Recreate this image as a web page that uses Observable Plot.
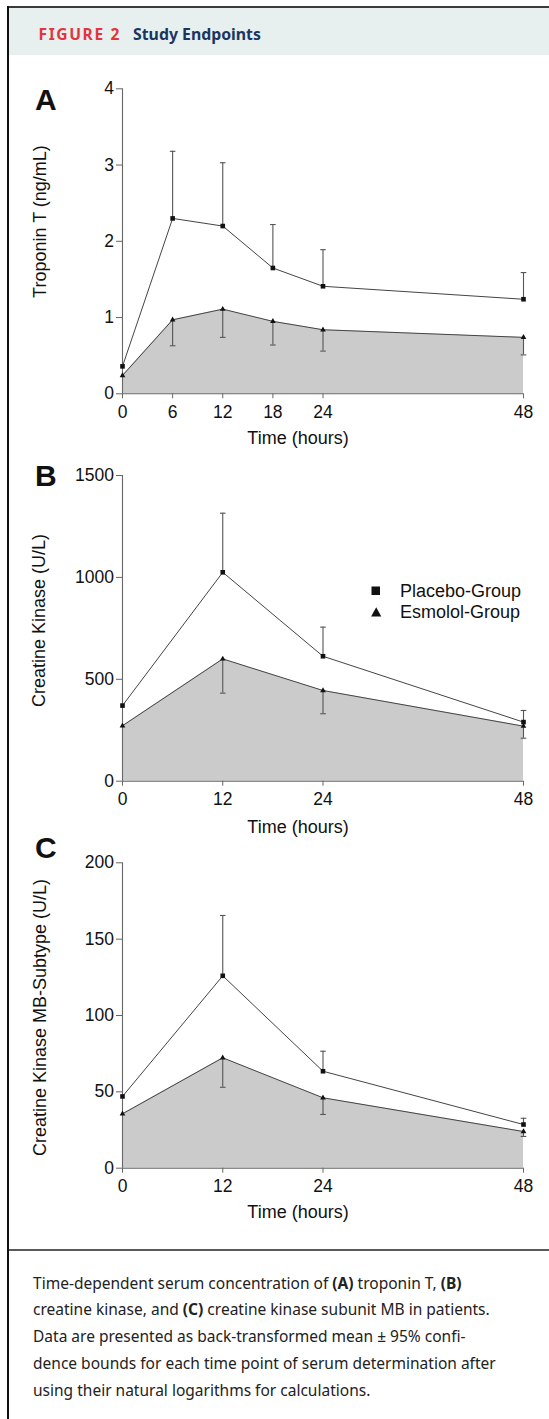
<!DOCTYPE html>
<html><head><meta charset="utf-8">
<script src="https://cdn.jsdelivr.net/npm/d3@7"></script>
<script src="https://cdn.jsdelivr.net/npm/@observablehq/plot@0.6"></script>
<style>
body{margin:0;background:#fff;}
#page{position:relative;width:549px;height:1419px;overflow:hidden;background:#fff;font-family:"Liberation Sans",Arial,sans-serif;}
.abs{position:absolute;}
.letter{position:absolute;font:bold 30px/30px "Liberation Sans",Arial,sans-serif;color:#111;}
.hdr{position:absolute;white-space:nowrap;font-family:"Noto Sans",sans-serif;font-weight:bold;line-height:20px;}
#caption{position:absolute;left:33px;top:1269.6px;font-family:"Noto Sans",sans-serif;color:#222;}
#caption div{height:26.75px;line-height:26.75px;white-space:nowrap;}
#caption span{display:inline-block;white-space:nowrap;}
.leg{position:absolute;font:18px/22px "Liberation Sans",Arial,sans-serif;color:#111;white-space:nowrap;}
.panel{position:absolute;left:0;}
</style></head><body><div id="page">
<div class="abs" style="left:7px;top:6px;width:542px;height:2px;background:#3a3a3a"></div>
<div class="abs" style="left:7px;top:6px;width:2.3px;height:1413px;background:#111"></div>
<div class="abs" style="left:9px;top:8px;width:540px;height:47px;background:#e7f0ef"></div>
<div class="hdr" id="fig" style="left:38.5px;top:24px;color:#e4343c;letter-spacing:1.6px;font-size:15px">FIGURE 2</div>
<div class="hdr" id="ttl" style="left:133px;top:24px;color:#1b3561;font-size:15px">Study Endpoints</div>
<div class="letter" style="left:35px;top:84.5px">A</div>
<div class="letter" style="left:35px;top:461px">B</div>
<div class="letter" style="left:35px;top:833px">C</div>
<div class="panel" id="pA" style="top:60px"></div>
<div class="panel" id="pB" style="top:460px"></div>
<div class="panel" id="pC" style="top:830px"></div>
<svg class="abs" style="left:371px;top:585.5px" width="10" height="10"><rect x="0.5" y="0.5" width="8.5" height="8.5" fill="#111"/></svg>
<div class="leg" style="left:400px;top:579.5px">Placebo-Group</div>
<svg class="abs" style="left:371px;top:607px" width="11" height="10"><polygon points="5.2,0.3 10.3,9.5 0.1,9.5" fill="#111"/></svg>
<div class="leg" style="left:400px;top:601px">Esmolol-Group</div>
<div class="abs" style="left:9px;top:1249px;width:540px;height:2px;background:#5a5a5a"></div>
<div id="caption">
<div><span id="cap1">Time-dependent serum concentration of <b>(A)</b> troponin T, <b>(B)</b></span></div>
<div><span>creatine kinase, and <b>(C)</b> creatine kinase subunit MB in patients.</span></div>
<div><span>Data are presented as back-transformed mean ± 95% confi-</span></div>
<div><span>dence bounds for each time point of serum determination after</span></div>
<div><span>using their natural logarithms for calculations.</span></div>
</div>
</div>
<script>
// Panel A: Troponin T (ng/mL)
const timesA = [0, 6, 12, 18, 24, 48];
const placeboA = [0.36, 2.30, 2.20, 1.65, 1.41, 1.24];
const placeboUpperA = [null, 3.18, 3.03, 2.22, 1.89, 1.59];
const esmololA = [0.24, 0.97, 1.11, 0.95, 0.84, 0.74];
const esmololLowerA = [null, 0.63, 0.74, 0.64, 0.56, 0.51];
const yTicksA = [0, 1, 2, 3, 4];

// Panel B: Creatine Kinase (U/L)
const timesB = [0, 12, 24, 48];
const placeboB = [371, 1025, 613, 290];
const placeboUpperB = [null, 1315, 756, 347];
const esmololB = [272, 600, 445, 270];
const esmololLowerB = [null, 432, 331, 211];
const yTicksB = [0, 500, 1000, 1500];

// Panel C: Creatine Kinase MB-Subtype (U/L)
const timesC = [0, 12, 24, 48];
const placeboC = [47, 126, 63.5, 28.6];
const placeboUpperC = [null, 165.5, 76.6, 32.7];
const esmololC = [35.6, 72.3, 46.1, 24];
const esmololLowerC = [null, 53, 35.2, 20.8];
const yTicksC = [0, 50, 100, 150, 200];

const xLabel = "Time (hours)";
const legendLabels = ["Placebo-Group", "Esmolol-Group"];

const capSymbol = {draw(ctx, size) { const r = Math.sqrt(size / Math.PI); ctx.moveTo(-r, 0); ctx.lineTo(r, 0); }};

function panel(o) {
  const rows = o.times.map((t, i) => ({t, plac: o.placebo[i], up: o.placeboUpper[i], esm: o.esmolol[i], lo: o.esmololLower[i]}));
  const upRows = rows.filter(d => d.up != null);
  const loRows = rows.filter(d => d.lo != null);
  const frameCenter = o.marginTop + (o.height - o.marginTop - o.marginBottom) / 2;
  return Plot.plot({
    width: 549, height: o.height,
    marginLeft: 122, marginRight: 26, marginTop: o.marginTop, marginBottom: o.marginBottom,
    style: {fontFamily: "Liberation Sans, Arial, sans-serif", fontSize: "17px", color: "#111", background: "transparent", overflow: "visible"},
    x: {domain: [0, 48]},
    y: {domain: [0, o.yTicks[o.yTicks.length - 1]]},
    marks: [
      Plot.areaY(rows, {x: "t", y: "esm", fill: "#cbcbcb"}),
      Plot.ruleX([0], {stroke: "#666", strokeWidth: 1.1}),
      Plot.ruleY([0], {stroke: "#666", strokeWidth: 1.1}),
      Plot.axisX({ticks: o.times, tickFormat: () => "", tickSize: 5, label: null, stroke: "#666"}),
      Plot.axisY({ticks: o.yTicks, tickFormat: () => "", tickSize: 6, label: null, stroke: "#666"}),
      Plot.text(o.times, {x: d => d, text: d => `${d}`, frameAnchor: "bottom", textAnchor: "middle", lineAnchor: "middle", dy: 18.5, fontSize: 17.5, fill: "#111"}),
      Plot.text(o.yTicks, {y: d => d, text: d => `${d}`, frameAnchor: "left", textAnchor: "end", lineAnchor: "middle", dx: -8.5, fontSize: 17.5, fill: "#111"}),
      Plot.ruleX(upRows, {x: "t", y1: "plac", y2: "up", stroke: "#555", strokeWidth: 1.1}),
      Plot.dot(upRows, {x: "t", y: "up", symbol: capSymbol, r: 2.8, stroke: "#555", fill: "none", strokeWidth: 1.1}),
      Plot.ruleX(loRows, {x: "t", y1: "esm", y2: "lo", stroke: "#555", strokeWidth: 1.1}),
      Plot.dot(loRows, {x: "t", y: "lo", symbol: capSymbol, r: 2.8, stroke: "#555", fill: "none", strokeWidth: 1.1}),
      Plot.line(rows, {x: "t", y: "plac", stroke: "#444", strokeWidth: 1}),
      Plot.line(rows, {x: "t", y: "esm", stroke: "#444", strokeWidth: 1}),
      Plot.dot(rows, {x: "t", y: "plac", symbol: "square", r: 2.6, fill: "#111", stroke: "none"}),
      Plot.dot(rows, {x: "t", y: "esm", symbol: "triangle", r: 2.1, fill: "#111", stroke: "none"}),
      Plot.text([o.yLabel], {text: d => d, frameAnchor: "left", textAnchor: "middle", lineAnchor: "middle", rotate: -90, dx: o.yLabelX - 122, dy: o.yLabelY - frameCenter, fontSize: 18, fill: "#111"}),
      Plot.text([xLabel], {text: d => d, frameAnchor: "bottom", textAnchor: "middle", lineAnchor: "middle", dx: -25, dy: o.xLabelDy, fontSize: 18, fill: "#111"})
    ]
  });
}

document.getElementById("pA").append(panel({times: timesA, placebo: placeboA, placeboUpper: placeboUpperA, esmolol: esmololA, esmololLower: esmololLowerA, yTicks: yTicksA, height: 400, marginTop: 28.3, marginBottom: 66.7, yLabel: "Troponin T (ng/mL)", yLabelX: 40, yLabelY: 161, xLabelDy: 44}));
document.getElementById("pB").append(panel({times: timesB, placebo: placeboB, placeboUpper: placeboUpperB, esmolol: esmololB, esmololLower: esmololLowerB, yTicks: yTicksB, height: 370, marginTop: 15, marginBottom: 49.3, yLabel: "Creatine Kinase (U/L)", yLabelX: 38.5, yLabelY: 160, xLabelDy: 46}));
document.getElementById("pC").append(panel({times: timesC, placebo: placeboC, placeboUpper: placeboUpperC, esmolol: esmololC, esmololLower: esmololLowerC, yTicks: yTicksC, height: 400, marginTop: 32.3, marginBottom: 62.3, yLabel: "Creatine Kinase MB-Subtype (U/L)", yLabelX: 40, yLabelY: 187, xLabelDy: 44}));

function fit(el, target) {
  const w = el.getBoundingClientRect().width;
  const fs = parseFloat(getComputedStyle(el).fontSize);
  return fs * target / w;
}
const ttl = document.getElementById("ttl");
ttl.style.fontSize = fit(ttl, 128) + "px";
const fig = document.getElementById("fig");
fig.style.fontSize = fit(fig, 83) + "px";
const cap1 = document.getElementById("cap1");
document.getElementById("caption").style.fontSize = fit(cap1, 429) + "px";
</script>
</body></html>
